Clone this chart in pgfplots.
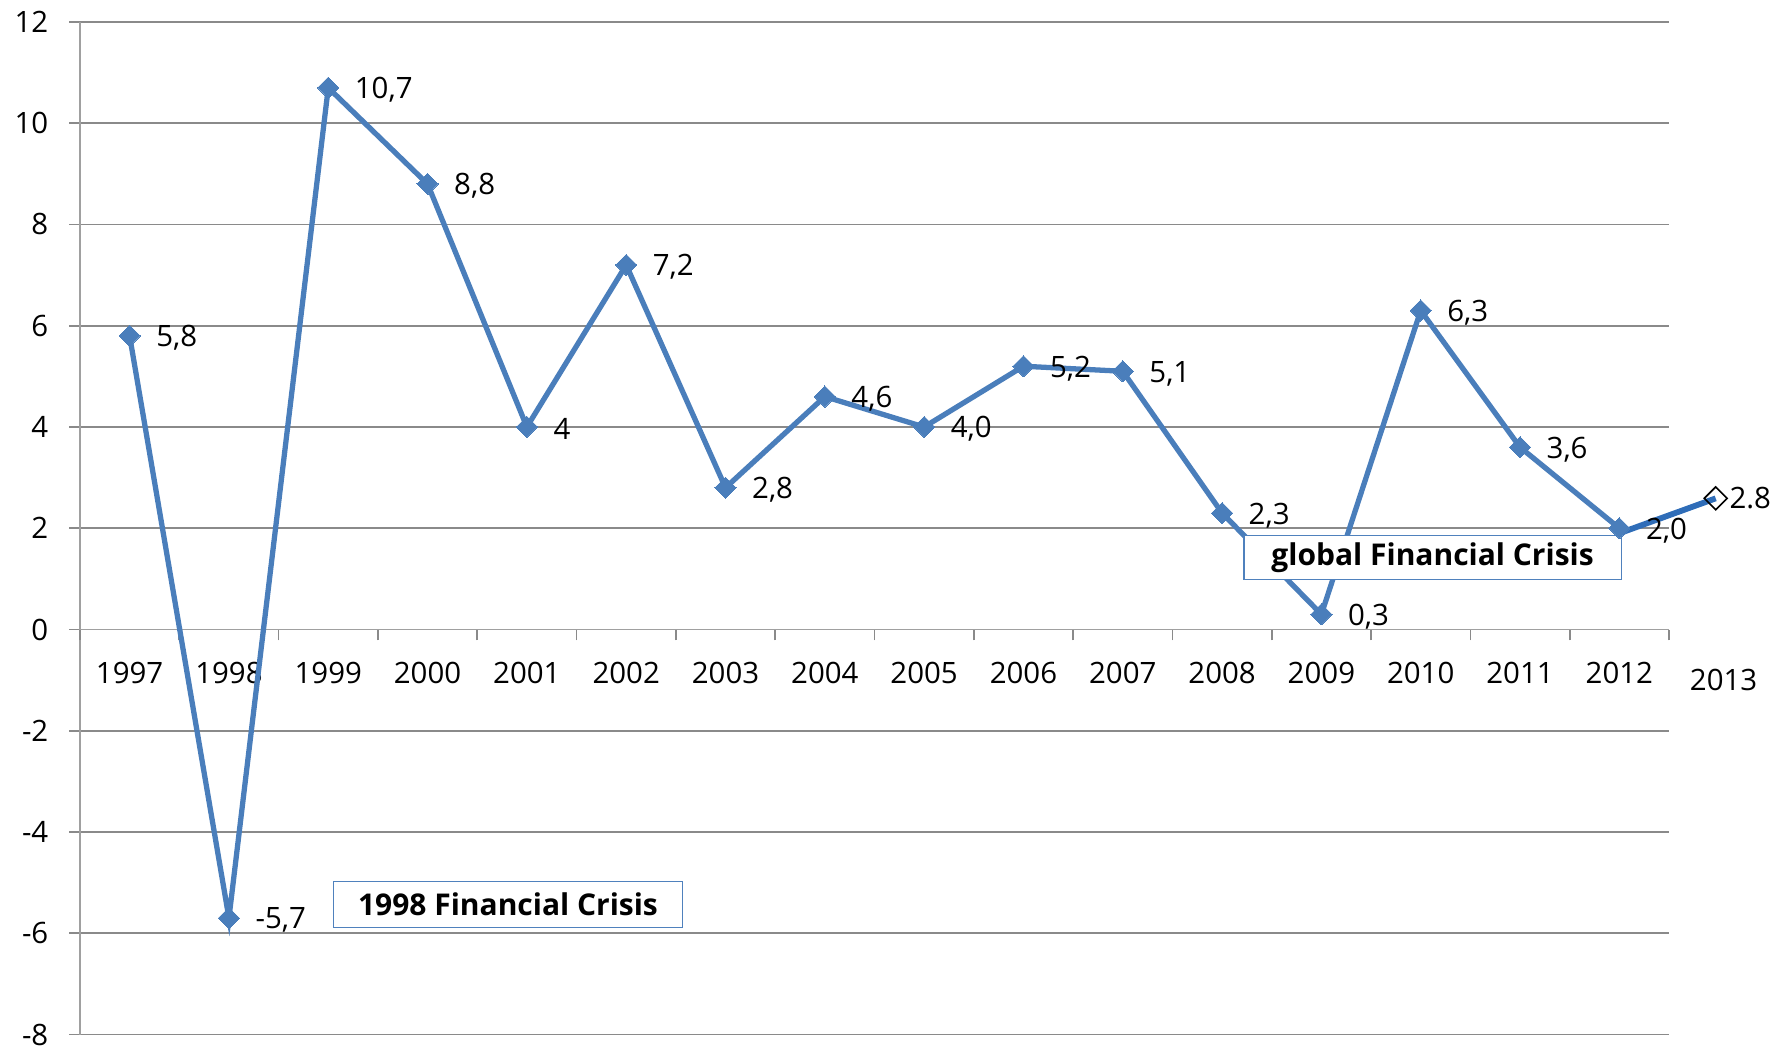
\documentclass[border=0pt]{standalone}
\usepackage{pgfplots}
\pgfplotsset{compat=1.18}
\usepackage{fontspec}
\setmainfont{Open Sans}
\definecolor{lineblue}{HTML}{4A7EBB}
\definecolor{darkblue}{HTML}{2F6DB8}
\definecolor{gridgray}{HTML}{8A8A8A}
\definecolor{axisgray}{HTML}{A0A0A0}
\definecolor{boxblue}{HTML}{4F81BD}
\pgfplotstableread{
x y lab
0 5.8 5,8
1 -5.7 -5,7
2 10.7 10,7
3 8.8 8,8
4 4.0 4
5 7.2 7,2
6 2.8 2,8
7 4.6 4,6
8 4.0 4,0
9 5.2 5,2
10 5.1 5,1
11 2.3 2,3
12 0.3 0,3
13 6.3 6,3
14 3.6 3,6
15 2.0 2,0
}\gdpdata
\pgfplotstableread{
x y lab
15.97 2.59 2.8
}\gdpproj
\begin{document}
\begin{tikzpicture}
\begin{axis}[
  scale only axis, width=572.3pt, height=364.7pt,
  xmin=-0.5, xmax=15.5, ymin=-8, ymax=12,
  axis x line=middle, axis y line=left,
  axis line style={-, draw=axisgray, line width=0.6pt},
  hide obscured x ticks=false, hide obscured y ticks=false,
  ytick={-8,-6,...,12},
  ymajorgrids, grid style={gridgray, line width=0.6pt},
  xtick={0,...,15},
  xticklabels={1997,1998,1999,2000,2001,2002,2003,2004,2005,2006,2007,2008,2009,2010,2011,2012},
  x tick style={draw=none},
  extra x ticks={-0.5,0.5,...,15.5},
  extra x tick labels={},
  extra x tick style={x tick style={draw=gridgray, line width=0.6pt}, tick align=outside},
  y tick style={draw=gridgray, line width=0.6pt},
  major tick length=3.9pt,
  ytick align=outside,
  tick label style={font=\fontsize{10.6}{12}\selectfont},
  /pgf/number format/assume math mode=true,
  yticklabel style={anchor=east, inner sep=0pt},
  yticklabel shift=7.3pt,
  xticklabel style={anchor=center, inner sep=0pt, yshift=-13.7pt},
  clip=false,
]
\addplot[lineblue, line width=1.9pt, mark=square*, mark size=2.7pt,
  mark options={rotate=45, fill=lineblue, draw=lineblue, line width=0pt},
  nodes near coords, point meta=explicit symbolic,
  nodes near coords style={anchor=west, inner sep=0pt, xshift=9.6pt, yshift=-0.8pt, text=black, font=\fontsize{10.6}{12}\selectfont}]
  table[x=x, y=y, meta=lab] {\gdpdata};
\addplot[darkblue, line width=2.1pt] coordinates {(15,1.9) (15.97,2.59)};
\addplot[only marks, mark=square, mark size=2.9pt,
  mark options={rotate=45, draw=black, fill=white, line width=0.6pt},
  nodes near coords, point meta=explicit symbolic,
  nodes near coords style={anchor=west, inner sep=0pt, xshift=4.7pt, text=black, font=\fontsize{10.6}{12}\selectfont}]
  table[x=x, y=y, meta=lab] {\gdpproj};
\node[font=\fontsize{10.6}{12}\selectfont, inner sep=0pt, yshift=-18.1pt] at (axis cs:16.05,0) {2013};
\node[draw=boxblue, line width=0.5pt, fill=white, minimum width=125.6pt, minimum height=16.6pt, inner sep=0pt,
  font=\fontsize{10.8}{12}\bfseries] at (axis cs:3.81,-5.43) {1998 Financial Crisis};
\node[draw=boxblue, line width=0.5pt, fill=white, minimum width=136pt, minimum height=15.8pt, inner sep=0pt,
  font=\fontsize{10.8}{12}\bfseries] at (axis cs:13.12,1.42) {global Financial Crisis};
\end{axis}
\pgfresetboundingbox
\path[use as bounding box] ([xshift=-28.8pt, yshift=-5.2pt]current axis.south west) rectangle ([xshift=38.9pt, yshift=7.9pt]current axis.north east);
\end{tikzpicture}
\end{document}
